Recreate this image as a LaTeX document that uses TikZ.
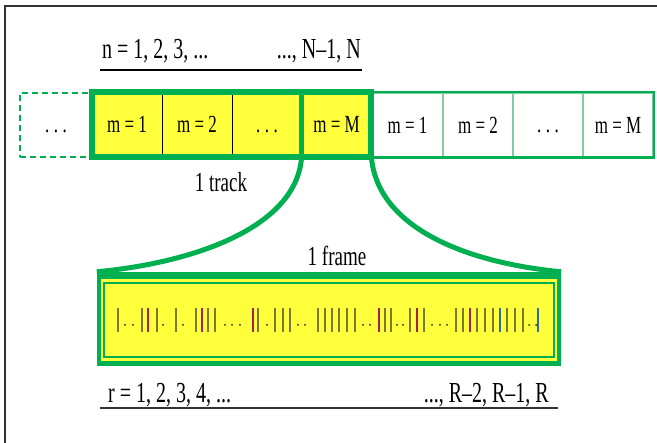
\documentclass[tikz,border=0pt]{standalone}
\usepackage{fontspec}
\setmainfont{Liberation Serif}
\usepackage{graphicx}
\newcommand{\vst}[1]{\scalebox{1}[1.45]{#1}}
\newcommand{\tdots}{\vphantom{1}.\kern4.5pt.\kern4.5pt.}
\definecolor{gr}{RGB}{0,176,80}
\definecolor{yl}{RGB}{255,255,60}
\definecolor{lgr}{RGB}{130,205,160}
\definecolor{barO}{RGB}{125,120,45}
\definecolor{barR}{RGB}{170,30,80}
\definecolor{barB}{RGB}{40,110,150}
\tikzset{
  cellbase/.style={rectangle, minimum width=70pt, minimum height=64pt, inner sep=0pt, font=\fontsize{17}{20}\selectfont},
  cellY/.style={cellbase, fill=yl, draw=black, line width=0.8pt},
  cellW/.style={cellbase, fill=white, draw=lgr, line width=1.5pt},
  cellD/.style={cellbase, minimum width=72pt, draw=gr, line width=2.5pt, dash pattern=on 6pt off 4pt},
  lbl/.style={font=\fontsize{20}{24}\selectfont, inner sep=0pt},
  sublbl/.style={font=\fontsize{19}{23}\selectfont, inner sep=0pt},
  thick green/.style={draw=gr, line width=6pt},
  curve/.style={draw=gr, line width=5pt},
  bar/.style={line width=1.1pt},
}
\begin{document}
\begin{tikzpicture}[x=1pt, y=-1pt]
\useasboundingbox (0,0) rectangle (657,443);
% page frame (left and top lines only)
\draw[black!80, line width=2pt] (5,443) -- (5,6) -- (657,6);

% top label
\node[lbl, anchor=base west] (nA) at (102,59) {\vst{n = 1, 2, 3, ...}};
\node[lbl, anchor=base east] (nB) at (361,59) {\vst{..., N–1, N}};
\coordinate (ulA) at (100,70);
\coordinate (ulB) at (362,70);
\draw[black, line width=1.5pt] (ulA) -- (ulB);

% dashed previous cell
\node[cellD] (d) at (56,125) {\vst{\tdots}};

% right white cells
\node[cellW] (w1) at (407.5,125) {\vst{m = 1}};
\node[cellW] (w2) at (478,125) {\vst{m = 2}};
\node[cellW] (w3) at (548,125) {\vst{\tdots}};
\node[cellW] (w4) at (618,125) {\vst{m = M}};
\draw[gr, line width=2.5pt] (w1.north west) rectangle (w4.south east);

% track cells
\node[cellY] (m1) at (127,124.5) {\vst{m = 1}};
\node[cellY] (m2) at (197,124.5) {\vst{m = 2}};
\node[cellY] (m3) at (267,124.5) {\vst{\tdots}};
\node[cellY, minimum width=69pt] (mM) at (336.5,124.5) {\vst{m = M}};
\draw[thick green] (m1.north west) rectangle (mM.south east);
\draw[gr, line width=5pt] (mM.north west) -- (mM.south west);

\node[sublbl, anchor=base] (trk) at (221,192) {\vst{1 track}};

% frame box
\node[rectangle, fill=gr, minimum width=464pt, minimum height=94pt, inner sep=0pt] (frame) at (329,319) {};
\fill[yl] ([shift={(4,7)}]frame.north west) rectangle ([shift={(-4,-5)}]frame.south east);
\draw[gr, line width=1.5pt, fill=yl] ([shift={(7,11)}]frame.north west) rectangle ([shift={(-7,-9)}]frame.south east);

% zoom curves
\draw[curve] (mM.south west) .. controls (297,225) and (200,262) .. (frame.north west);
\draw[curve] (mM.south east) .. controls (377,225) and (460,262) .. (frame.north east);

\node[sublbl, anchor=base] (frm) at (337,266) {\vst{1 frame}};

% bars and dots inside the frame
\foreach \x/\c in {118/barO,142/barO,148/barR,157/barO,176/barO,196/barO,202/barR,208/barO,215/barO,
  253/barR,258/barO,275/barO,283/barO,290/barO,318/barO,325/barO,332/barO,339/barO,347/barO,355/barO,
  379/barR,385/barO,391/barO,410/barO,417/barR,424/barO,456/barO,463/barO,470/barR,477/barO,485/barO,
  493/barO,500/barB,507/barO,515/barO,523/barO,538/barB}
  \draw[bar, \c] (\x,308) -- (\x,332);
\foreach \x in {125,133,163,183,225,232,240,267,298,305,363,370,397,403,432,440,447,529,536}
  \fill[black!85] (\x,325) circle (1pt);

% bottom label
\node[lbl, anchor=base west] (rA) at (108,403) {\vst{r = 1, 2, 3, 4, ...}};
\node[lbl, anchor=base east] (rB) at (549,403) {\vst{..., R–2, R–1, R}};
\coordinate (blA) at (100,408);
\coordinate (blB) at (558,408);
\draw[black!80, line width=2pt] (blA) -- (blB);
\end{tikzpicture}
\end{document}
